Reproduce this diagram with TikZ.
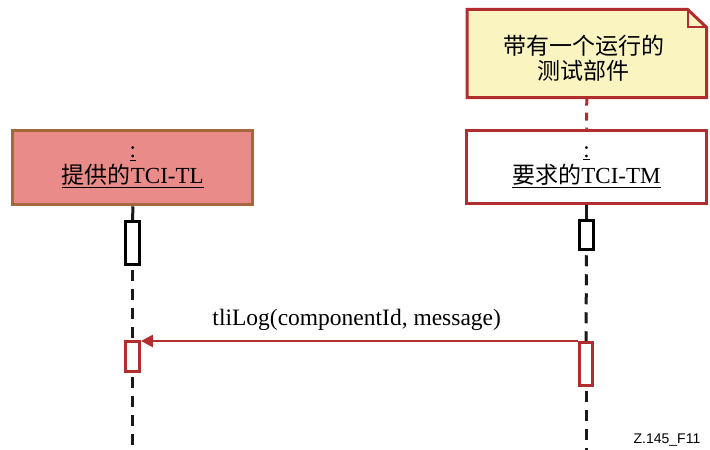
\documentclass[tikz,border=0pt]{standalone}
\usepackage{fontspec}
\setmainfont{Liberation Serif}
\newfontfamily\cjk{Noto Sans CJK SC}
\newfontfamily\labsans{Liberation Sans}
\usetikzlibrary{arrows.meta}
\definecolor{tlfill}{RGB}{233,139,136}
\definecolor{tldraw}{RGB}{163,104,60}
\definecolor{umlred}{RGB}{178,45,45}
\definecolor{notefill}{RGB}{249,244,192}
\tikzset{
  objbox/.style={draw, line width=3pt, inner sep=0pt, align=center,
    font=\fontsize{23}{26}\selectfont},
  actbox/.style={draw, fill=white, line width=3pt, minimum width=13.5pt, inner sep=0pt},
  lifeline/.style={line width=3pt, black!90},
  lifedash/.style={lifeline, dash pattern=on 11pt off 8pt, dash phase=15pt},
  msg/.style={umlred, line width=2.5pt, -{Triangle[length=12pt,width=12pt]}},
}
\begin{document}
\begin{tikzpicture}[x=1pt,y=-1pt]
\useasboundingbox (0,0) rectangle (710,450);
% object boxes
\node[objbox, fill=tlfill, draw=tldraw, minimum width=240pt, minimum height=74.5pt] (tl) at (132.8,167.5)
  {\underline{:}\\\underline{{\cjk 提供的}TCI-TL}};
\node[objbox, fill=white, draw=umlred, minimum width=240pt, minimum height=73.5pt] (tm) at (586.5,167)
  {\underline{:}\\\underline{{\cjk 要求的}TCI-TM}};
% note
\node[minimum width=239pt, minimum height=88pt, inner sep=0pt] (note) at (586.8,53.5) {};
\draw[umlred, line width=3pt, fill=notefill, line join=miter]
  (note.north west) -- ([xshift=-19pt]note.north east) -- ([yshift=-18pt]note.north east)
  -- (note.south east) -- (note.south west) -- cycle;
\draw[umlred, line width=2pt]
  ([xshift=-19pt]note.north east) -- ([xshift=-19pt,yshift=-18pt]note.north east) -- ([yshift=-18pt]note.north east);
\node[align=center, inner sep=0pt, font=\cjk\fontsize{23}{25.5}\selectfont] (notetext) at (583.5,58)
  {带有一个运行的\\测试部件};
\draw[umlred, line width=3pt, dash pattern=on 8pt off 7pt] (note.south) -- (tm.north);
% lifeline ends
\coordinate (endL) at (132.7,450);
\coordinate (endR) at (586,450);
% activations
\node[actbox, minimum height=42.5pt] (aL1) at (132.7,243) {};
\node[actbox, minimum height=29.5pt] (aR1) at (586.5,235) {};
\node[actbox, draw=umlred, minimum height=30pt] (aL2) at (132.7,356.5) {};
\node[actbox, draw=umlred, minimum height=43pt] (aR2) at (586,364) {};
% lifelines
\draw[lifeline] (tl.south) -- (aL1.north);
\draw[lifeline] (tm.south) -- (aR1.north);
\draw[lifedash] (aL1.south) -- (aL2.north);
\draw[lifedash] (aL2.south) -- (endL);
\draw[lifedash] (aR1.south) -- (aR2.north);
\draw[lifedash] (aR2.south) -- (endR);
% message
\draw[msg] (aR2.north west) -- (aR2.north west -| aL2.east);
\node[anchor=base, inner sep=0pt, font=\fontsize{23.5}{26}\selectfont] (msglabel) at (356.7,325) {tliLog(componentId, message)};
\node[anchor=base east, inner sep=0pt, font=\labsans\fontsize{14}{16}\selectfont] (fig) at (700.5,443) {Z.145\_F11};
\end{tikzpicture}
\end{document}
